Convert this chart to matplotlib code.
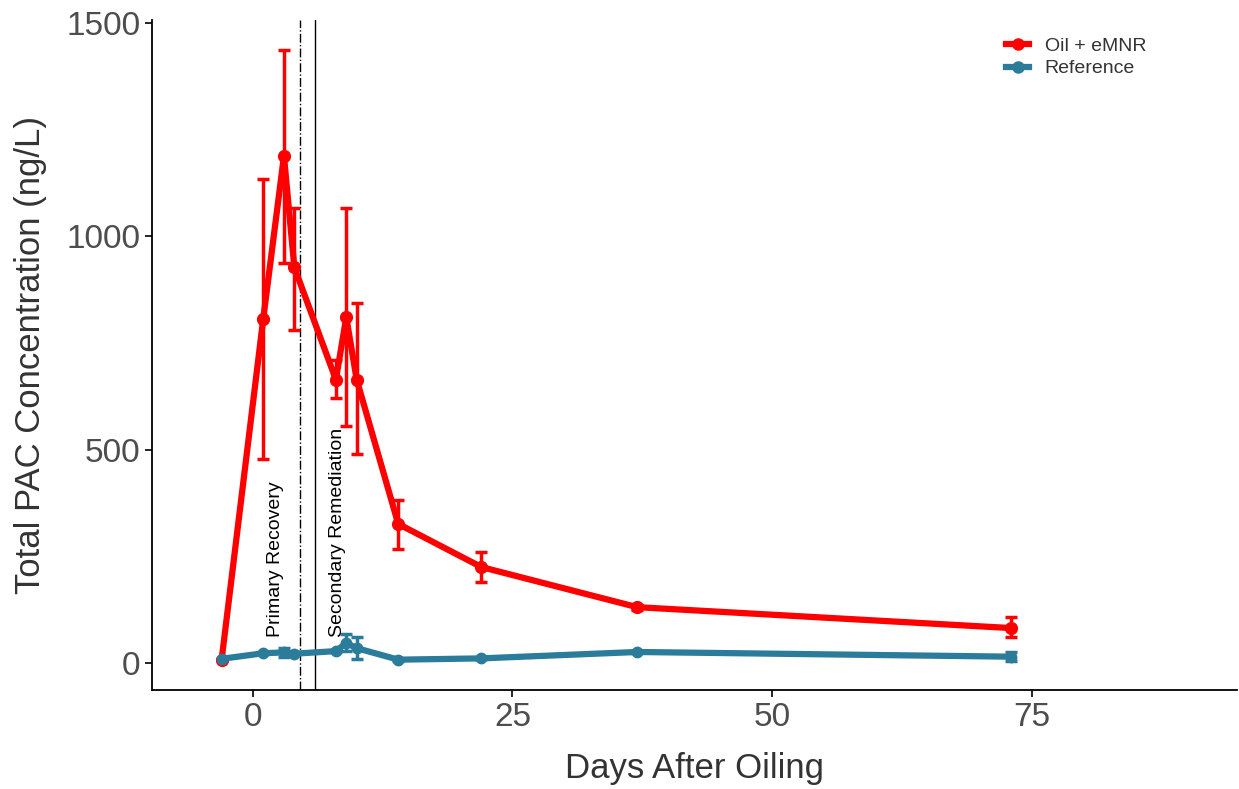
import numpy as np
import matplotlib.pyplot as plt
from matplotlib.lines import Line2D

# data
days = [-3, 1, 3, 4, 8, 9, 10, 14, 22, 37, 73]

oil_mean = [8, 805, 1188, 927, 664, 810, 664, 326, 225, 131, 82]
oil_lo = [8, 478, 937, 780, 620, 555, 490, 268, 190, 125, 60]
oil_hi = [8, 1135, 1437, 1067, 710, 1065, 843, 383, 260, 137, 107]

ref_mean = [10, 23, 25, 22, 28, 47, 35, 8, 11, 26, 15]
ref_lo = [10, 21, 15, 20, 26, 28, 10, 6, 9, 24, 5]
ref_hi = [10, 25, 35, 24, 30, 68, 62, 10, 13, 28, 25]

primary_day = 4.5
secondary_day = 6

RED = '#ff0000'
BLUE = '#2b7b9b'

plt.rcParams['font.family'] = ['Liberation Sans', 'DejaVu Sans']

fig = plt.figure(figsize=(12.39, 7.89), dpi=100)
ax = fig.add_axes([0.1227, 0.1255, 0.8753, 0.8495])

def draw(mean, lo, hi, color, ms):
    mean = np.array(mean)
    yerr = [mean - np.array(lo), np.array(hi) - mean]
    ax.errorbar(days, mean, yerr=yerr, color=color, lw=4.5, marker='o', ms=ms,
                elinewidth=2.5, capsize=4, capthick=2.5, zorder=3)

draw(oil_mean, oil_lo, oil_hi, RED, 8.5)
draw(ref_mean, ref_lo, ref_hi, BLUE, 7.5)

ax.axvline(primary_day, color='black', lw=1, ls='-.', zorder=2)
ax.axvline(secondary_day, color='black', lw=1, zorder=2)
ax.text(2.2, 60, 'Primary Recovery', rotation=90, fontsize=14,
        ha='center', va='bottom')
ax.text(8.2, 60, 'Secondary Remediation', rotation=90, fontsize=14,
        ha='center', va='bottom')

ax.set_xlim(-9.7, 94.7)
ax.set_ylim(-63, 1507)
ax.set_xticks([0, 25, 50, 75])
ax.set_yticks([0, 500, 1000, 1500])
ax.tick_params(labelsize=24, labelcolor='#4d4d4d', width=1.2, length=5)
ax.set_xlabel('Days After Oiling', fontsize=25, color='#333333', labelpad=14)
ax.set_ylabel('Total PAC Concentration (ng/L)', fontsize=25, color='#333333',
              labelpad=14)

for s in ['top', 'right']:
    ax.spines[s].set_visible(False)
for s in ['left', 'bottom']:
    ax.spines[s].set_linewidth(1.3)

handles = [Line2D([], [], color=RED, lw=4.5, marker='o', ms=8),
           Line2D([], [], color=BLUE, lw=4.5, marker='o', ms=8)]
leg = ax.legend(handles, ['Oil + eMNR', 'Reference'], loc='upper right',
                bbox_to_anchor=(0.933, 1.0), frameon=False,
                fontsize=14, handlelength=1.2, labelspacing=0.25)
for t in leg.get_texts():
    t.set_color('#333333')

fig.savefig('out.png', dpi=100)
